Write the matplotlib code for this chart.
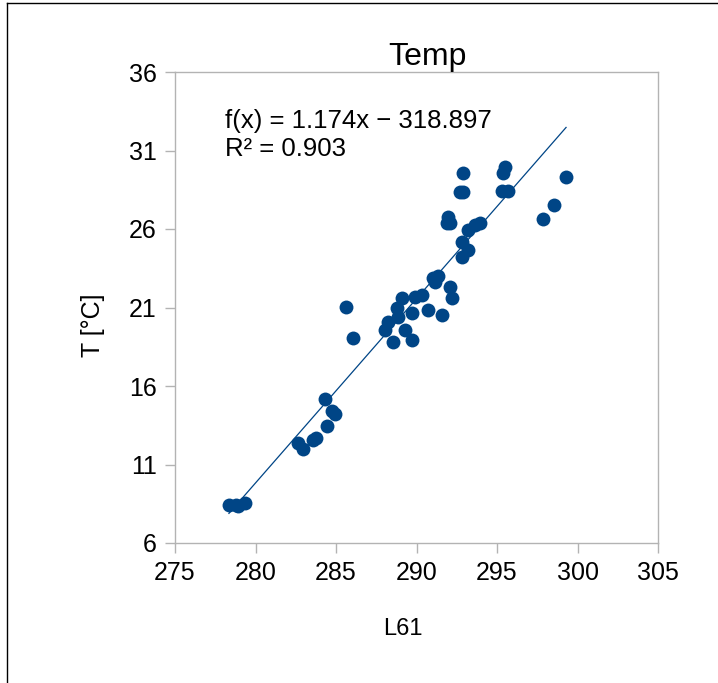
import matplotlib
matplotlib.use("Agg")
import matplotlib.pyplot as plt
import numpy as np

plt.rcParams['font.family'] = ['Liberation Sans', 'DejaVu Sans']

# L61 readings and measured temperature
l61 = [278.35, 278.79, 278.91, 279.35, 282.64, 282.95, 283.57, 283.76, 284.44,
       284.32, 284.75, 284.94, 285.62, 286.06, 288.54, 289.72, 288.04, 289.29,
       288.23, 288.79, 288.85, 289.72, 289.10, 289.91, 290.34, 290.71, 291.58,
       291.15, 292.08, 292.20, 291.02, 291.34, 292.83, 293.20, 292.83, 293.20,
       293.63, 293.94, 291.89, 292.08, 291.96, 292.70, 292.89, 292.89, 295.31,
       295.68, 295.37, 295.50, 299.29, 298.54, 297.86]
temp = [8.42, 8.42, 8.36, 8.55, 12.37, 11.99, 12.56, 12.69, 13.45,
        15.17, 14.41, 14.22, 21.03, 19.06, 18.80, 18.93, 19.57, 19.57,
        20.08, 20.97, 20.39, 20.65, 21.61, 21.67, 21.80, 20.84, 20.52,
        22.62, 22.31, 21.61, 22.88, 23.01, 24.22, 24.66, 25.17, 25.94,
        26.25, 26.38, 26.38, 26.38, 26.76, 28.36, 28.36, 29.57, 28.42,
        28.42, 29.57, 29.95, 29.31, 27.53, 26.64]

# Linear trend line
slope = 1.174
intercept = -318.897
r_squared = 0.903

x_ticks = [275, 280, 285, 290, 295, 300, 305]
y_ticks = [6, 11, 16, 21, 26, 31, 36]

fig = plt.figure(figsize=(7.18, 6.83), dpi=100)
ax = fig.add_axes([175 / 718, 1 - 543 / 683, 483 / 718, 471 / 683])

# outer chart frame (top and left edges)
fig.add_artist(plt.Line2D([7 / 718, 7 / 718], [0, 1 - 3 / 683], transform=fig.transFigure,
                          color='black', lw=1.0))
fig.add_artist(plt.Line2D([7 / 718, 1], [1 - 3 / 683, 1 - 3 / 683], transform=fig.transFigure,
                          color='black', lw=1.0))

color = '#004586'
ax.scatter(l61, temp, s=100, color=color, zorder=3, linewidths=0)

xs = np.array([min(l61), max(l61)])
ax.plot(xs, slope * xs + intercept, color=color, lw=0.9, zorder=2)

ax.set_xlim(275, 305)
ax.set_ylim(6, 36)
ax.set_xticks(x_ticks)
ax.set_yticks(y_ticks)
ax.tick_params(axis='both', direction='out', length=7, width=1, color='#b3b3b3',
               labelsize=18, pad=6)
for sp in ax.spines.values():
    sp.set_color('#b3b3b3')
    sp.set_linewidth(1)

ax.set_title('Temp', fontsize=23, x=0.523, pad=2)
ax.set_xlabel('L61', fontsize=17)
ax.xaxis.set_label_coords(0.472, -0.16)
ax.set_ylabel('T [°C]', fontsize=18)
ax.yaxis.set_label_coords(-0.145, 0.463)

ax.text(0.103, 0.922, f'f(x) = {slope:.3f}x \u2212 {abs(intercept):.3f}\nR\u00b2 = {r_squared:.3f}',
        transform=ax.transAxes, fontsize=18.5, va='top', ha='left', linespacing=1.22)

fig.savefig('out.png', dpi=100)
